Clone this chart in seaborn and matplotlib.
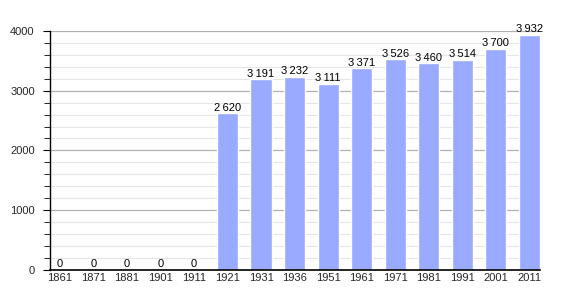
import matplotlib
matplotlib.use("Agg")
import matplotlib.pyplot as plt
from matplotlib.ticker import MultipleLocator
import seaborn as sns
import pandas as pd

years = ["1861", "1871", "1881", "1901", "1911", "1921", "1931", "1936",
         "1951", "1961", "1971", "1981", "1991", "2001", "2011"]
population = [0, 0, 0, 0, 0, 2620, 3191, 3232, 3111, 3371, 3526, 3460,
              3514, 3700, 3932]

df = pd.DataFrame({"year": years, "population": population})

sns.set_style("white")
plt.rcParams["font.family"] = ["Liberation Sans", "DejaVu Sans"]

fig = plt.figure(figsize=(5.7, 3.0), dpi=100)
ax = fig.add_axes([0.0877, 0.1, 0.86, 0.797])

sns.barplot(data=df, x="year", y="population", color="#99aaff",
            saturation=1, width=0.63, ax=ax, zorder=3)

ax.set_ylim(0, 4000)
ax.set_xlim(-0.29, len(years) - 1 + 0.32)
ax.yaxis.set_major_locator(MultipleLocator(1000))
ax.yaxis.set_minor_locator(MultipleLocator(200))
ax.grid(which="major", axis="y", color="#b0b0b0", linewidth=0.9, zorder=0)
ax.grid(which="minor", axis="y", color="#e6e6e6", linewidth=0.8, zorder=0)
ax.set_axisbelow(True)

for s in ["top", "right"]:
    ax.spines[s].set_visible(False)
ax.spines["left"].set_color("black")
ax.spines["bottom"].set_color("black")
ax.spines["left"].set_linewidth(1.0)
ax.spines["bottom"].set_linewidth(1.2)
ax.spines["left"].set_zorder(5)
ax.spines["bottom"].set_zorder(5)

ax.tick_params(axis="y", which="major", direction="out", length=5, width=0.8,
               labelsize=8, left=True, color="black", pad=6)
ax.tick_params(axis="y", which="minor", direction="out", length=4, width=0.6,
               left=True, color="black")
ax.tick_params(axis="x", length=0, labelsize=8, pad=2)
ax.set_xlabel("")
ax.set_ylabel("")

def fmt(v):
    s = f"{v:,}".replace(",", "\u2009")
    return s

for i, v in enumerate(population):
    ax.text(i, v + 10, fmt(v), ha="center", va="bottom", fontsize=8,
            color="black", zorder=6)

fig.savefig("out.png", dpi=100)
